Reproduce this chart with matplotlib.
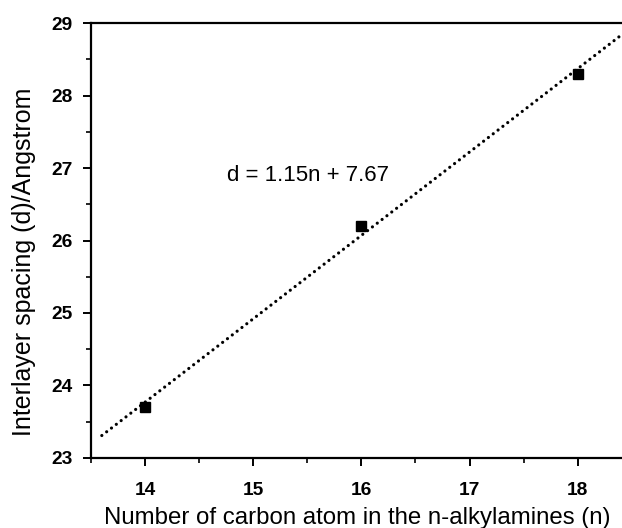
import matplotlib
matplotlib.use("Agg")
import matplotlib.pyplot as plt
import numpy as np
from matplotlib.ticker import MultipleLocator

# data
carbon_n = [14, 16, 18]
spacing_d = [23.7, 26.2, 28.3]
fit_slope = 1.15
fit_intercept = 7.67
fit_range = [13.6, 18.5]
fit_label = "d = 1.15n + 7.67"

plt.rcParams["font.family"] = ["Liberation Sans", "DejaVu Sans"]

fig = plt.figure(figsize=(6.22, 5.28), dpi=100)
ax = fig.add_axes([0.1463, 0.1326, 0.8537, 0.8238])

fit_x = np.array(fit_range)
ax.plot(fit_x, fit_slope * fit_x + fit_intercept, linestyle=(0, (0.01, 1.9)),
        color="black", linewidth=2.3, dash_capstyle="round")
ax.plot(carbon_n, spacing_d, linestyle="none", marker="s", markersize=7,
        color="black")
ax.text(14.76, 26.89, fit_label, fontsize=16, va="center", ha="left")

ax.set_xlim(13.5, 18.41)
ax.set_ylim(23, 29)
ax.xaxis.set_major_locator(MultipleLocator(1))
ax.xaxis.set_minor_locator(MultipleLocator(0.5))
ax.yaxis.set_major_locator(MultipleLocator(1))
ax.yaxis.set_minor_locator(MultipleLocator(0.5))
ax.spines["right"].set_visible(False)
for side in ("left", "bottom", "top"):
    ax.spines[side].set_linewidth(1.6)
ax.tick_params(which="major", direction="out", length=6, width=1.4)
ax.tick_params(which="minor", direction="out", length=3.5, width=1.2)
ax.tick_params(axis="y", pad=7)
ax.tick_params(axis="x", pad=11)
for label in ax.get_xticklabels() + ax.get_yticklabels():
    label.set_fontweight("bold")
    label.set_fontsize(13.8)

# axis titles sit off-centre in the original, so place them by hand
ax.set_xlabel("Number of carbon atom in the n-alkylamines (n)", fontsize=17.3,
              va="baseline")
ax.xaxis.set_label_coords(0.502, -0.152)
ax.set_ylabel("Interlayer spacing (d)/Angstrom", fontsize=18)
ax.yaxis.set_label_coords(-0.103, 0.45)

fig.savefig("out.png", dpi=100)
